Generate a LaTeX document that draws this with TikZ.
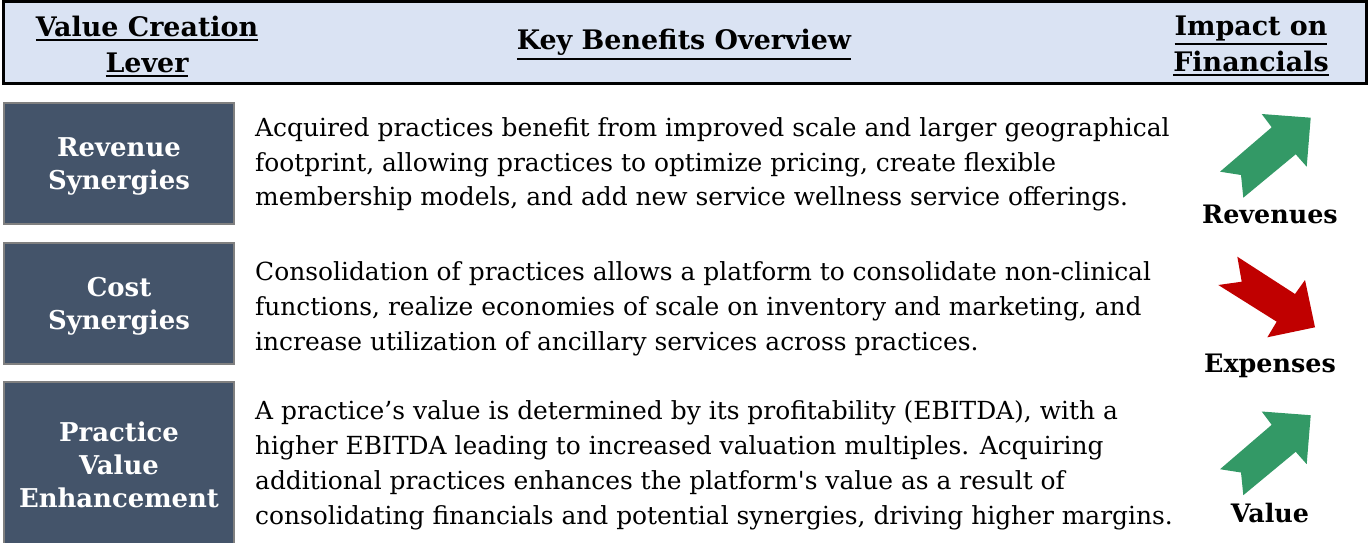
\documentclass[tikz,border=0pt]{standalone}
\usepackage{fontspec}
\setmainfont{DejaVu Serif}
\usetikzlibrary{positioning}

\definecolor{hdrblue}{HTML}{DAE3F3}
\definecolor{leverblue}{HTML}{44546A}
\definecolor{upgreen}{HTML}{339966}
\definecolor{downred}{HTML}{C00000}

% underlined header words
\newcommand{\hdrul}[1]{\vtop{\hbox{#1}\kern2bp\hrule height 1.8bp}}

\tikzset{
  hdrbox/.style={draw=black, line width=3bp, fill=hdrblue, minimum width=1362.5bp, minimum height=82.5bp, inner sep=0pt},
  hdrtext/.style={font=\bfseries\fontsize{27}{36}\selectfont, align=center, inner sep=0pt, anchor=base},
  lever/.style={draw=gray, line width=2.5bp, fill=leverblue, text=white, font=\bfseries\fontsize{26}{33}\selectfont, align=center, minimum width=229.5bp, minimum height=120.5bp, inner sep=0pt},
  benefit/.style={font=\fontsize{25}{35}\selectfont, align=left, inner sep=0pt, anchor=base west},
  impact/.style={font=\bfseries\fontsize{25.5}{30}\selectfont, inner sep=0pt, anchor=base},
  uparrow/.style={fill=upgreen},
  downarrow/.style={fill=downred},
}

\begin{document}
\begin{tikzpicture}[x=1bp, y=-1bp]
  \useasboundingbox (0,0) rectangle (1369,543);

  % header band
  \node[hdrbox] (hdr) at (684.75,42.75) {};
  \node[hdrtext] (hlever) at (147,72.5) {\hdrul{Value Creation}\\\hdrul{Lever}};
  \node[hdrtext] (hbenefit) at (684,50) {\hdrul{Key Benefits Overview}};
  \node[hdrtext] (himpact) at (1251,71.5) {\hdrul{Impact on}\\\hdrul{Financials}};

  % levers
  \node[lever, text depth=-3bp] (rev) at (119,163.5) {Revenue\\Synergies};
  \node[lever, text depth=-3bp] (cost) at (119,303.5) {Cost\\Synergies};
  \node[lever, minimum height=166bp] (pve) at (119,465) {Practice\\Value\\Enhancement};

  % benefits (anchored on the last line)
  \node[benefit] (revtxt) at (255,206) {Acquired practices benefit from improved scale and larger geographical\\
    footprint, allowing practices to optimize pricing, create flexible\\
    membership models, and add new service wellness service offerings.};
  \node[benefit] (costtxt) at (255,350) {Consolidation of practices allows a platform to consolidate non-clinical\\
    functions, realize economies of scale on inventory and marketing, and\\
    increase utilization of ancillary services across practices.};
  \node[benefit] (pvetxt) at (255,524) {A practice’s value is determined by its profitability (EBITDA), with a\\
    higher EBITDA leading to increased valuation multiples. Acquiring\\
    additional practices enhances the platform\textquotesingle s value as a result of\\
    consolidating financials and potential synergies, driving higher margins.};

  % impact arrows
  \foreach \dy in {0,297.5}
    \fill[uparrow, yshift=-\dy bp] (1220,171.7) -- (1241,175) -- (1243.3,197.7) -- (1295.7,154.3)
      -- (1306.7,166.7) -- (1310.7,117.7) -- (1261.7,114) -- (1271.7,127.3) -- cycle;
  \fill[downarrow] (1237.3,256.7) -- (1295,294) -- (1305,280) -- (1315,327.3)
    -- (1267.3,337.3) -- (1276.7,321.7) -- (1218.3,285) -- (1241.7,281.7) -- cycle;

  \node[impact] (revlbl) at (1270,224) {Revenues};
  \node[impact] (costlbl) at (1270,372) {Expenses};
  \node[impact] (pvelbl) at (1270,522) {Value};
\end{tikzpicture}
\end{document}
